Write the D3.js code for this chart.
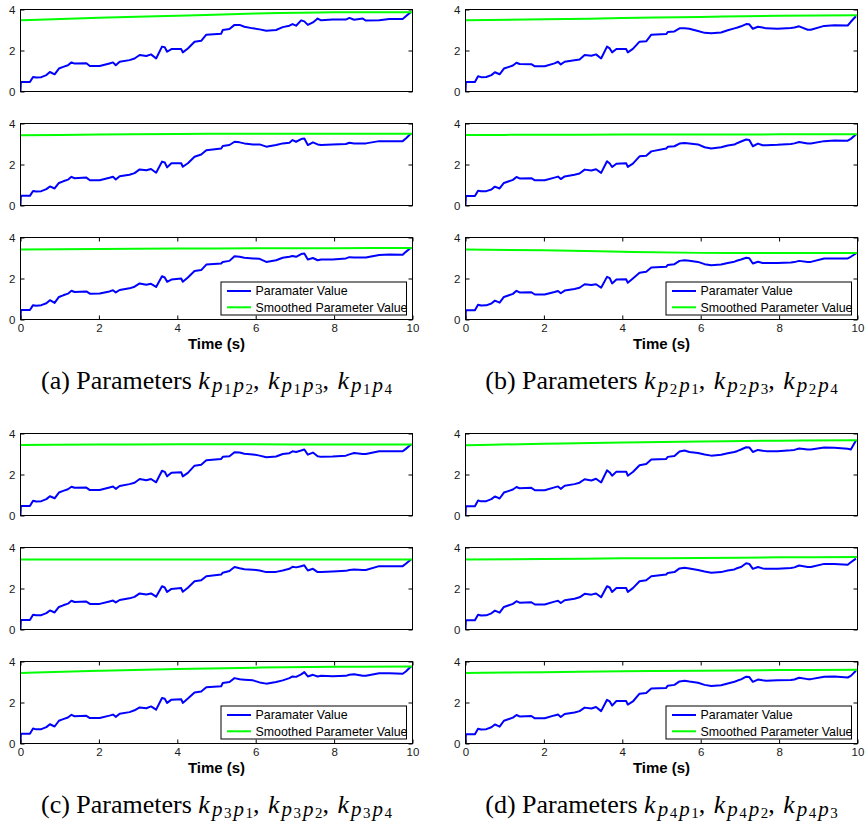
<!DOCTYPE html>
<html>
<head>
<meta charset="utf-8">
<script src="https://cdn.jsdelivr.net/npm/d3@7"></script>
<style>
  body { margin: 0; background: #fff; }
  svg { display: block; }
</style>
</head>
<body>
<svg id="chart" width="865" height="830"></svg>
<script>
// ---- Sample times (s) shared by every parameter trace ----
const time = [0, 0.01, 0.24, 0.32, 0.4, 0.53, 0.66, 0.75, 0.87, 0.98,
  1.09, 1.21, 1.3, 1.38, 1.68, 1.77, 2.02, 2.27, 2.36, 2.43,
  2.53, 2.78, 2.91, 3.04, 3.21, 3.33, 3.46, 3.61, 3.68, 3.74,
  3.85, 4.1, 4.14, 4.27, 4.44, 4.61, 4.74, 5.12, 5.16, 5.33,
  5.46, 5.59, 5.71, 5.93, 6.1, 6.27, 6.52, 6.69, 6.86, 6.94,
  7.03, 7.16, 7.24, 7.33, 7.46, 7.58, 7.67, 7.96, 8.3, 8.39,
  8.51, 8.73, 8.81, 9.15, 9.41, 9.75, 9.83, 9.96];

// ---- Raw parameter values ----
const paramP1P2 = [0, 0.46, 0.46, 0.71, 0.68, 0.70, 0.80, 0.95, 0.84, 1.12, 1.20, 1.28, 1.42, 1.36, 1.38, 1.24, 1.24, 1.37, 1.42, 1.28, 1.45, 1.53, 1.61, 1.78, 1.73, 1.81, 1.61,
  2.19, 2.16, 1.94, 2.07, 2.07, 1.91, 2.10, 2.43, 2.47, 2.77, 2.82, 3.00, 3.05, 3.25, 3.25, 3.16, 3.08, 3.03, 2.96, 3.00, 3.14, 3.21, 3.29, 3.21, 3.47, 3.42, 3.25, 3.37, 3.56, 3.47, 3.51, 3.51, 3.59, 3.50, 3.56, 3.46, 3.47, 3.54, 3.54, 3.67, 3.88];
const paramP1P3 = [0, 0.47, 0.47, 0.71, 0.68, 0.70, 0.80, 0.93, 0.83, 1.10, 1.18, 1.26, 1.40, 1.33, 1.36, 1.23, 1.23, 1.35, 1.40, 1.27, 1.43, 1.50, 1.58, 1.76, 1.72, 1.78, 1.60,
  2.14, 2.10, 1.86, 2.06, 2.06, 1.89, 2.06, 2.38, 2.49, 2.70, 2.78, 2.90, 2.95, 3.11, 3.08, 3.03, 2.98, 2.98, 2.87, 2.95, 3.03, 3.06, 3.19, 3.11, 3.24, 3.27, 2.95, 3.08, 2.98, 2.95, 2.97, 3.00, 3.06, 3.03, 3.03, 3.03, 3.14, 3.14, 3.14, 3.27, 3.51];
const paramP1P4 = [0, 0.46, 0.46, 0.70, 0.67, 0.70, 0.79, 0.94, 0.81, 1.10, 1.18, 1.26, 1.40, 1.34, 1.37, 1.26, 1.27, 1.37, 1.43, 1.32, 1.44, 1.52, 1.60, 1.76, 1.70, 1.74, 1.59,
  2.11, 2.05, 1.84, 1.95, 2.00, 1.84, 2.05, 2.37, 2.41, 2.68, 2.73, 2.81, 2.86, 3.09, 3.06, 3.01, 2.98, 2.96, 2.81, 2.89, 3.01, 3.06, 3.10, 3.06, 3.19, 3.22, 2.93, 3.00, 2.89, 2.93, 2.93, 2.98, 3.04, 3.02, 3.03, 3.02, 3.15, 3.17, 3.16, 3.30, 3.50];
const paramP2P1 = [0, 0.46, 0.46, 0.74, 0.70, 0.71, 0.80, 0.94, 0.84, 1.12, 1.19, 1.27, 1.40, 1.34, 1.33, 1.23, 1.23, 1.37, 1.45, 1.32, 1.45, 1.52, 1.56, 1.78, 1.74, 1.81, 1.61,
  2.19, 2.10, 1.91, 2.07, 2.07, 1.91, 2.08, 2.43, 2.45, 2.77, 2.80, 2.90, 2.93, 3.08, 3.08, 3.06, 2.95, 2.86, 2.84, 2.88, 2.99, 3.08, 3.12, 3.18, 3.29, 3.28, 3.06, 3.16, 3.12, 3.08, 3.06, 3.10, 3.12, 3.18, 3.01, 3.01, 3.20, 3.23, 3.22, 3.40, 3.67];
const paramP2P3 = [0, 0.46, 0.46, 0.72, 0.69, 0.70, 0.78, 0.92, 0.83, 1.10, 1.17, 1.25, 1.39, 1.32, 1.33, 1.23, 1.23, 1.36, 1.41, 1.29, 1.42, 1.50, 1.56, 1.75, 1.71, 1.77, 1.59,
  2.16, 2.05, 1.88, 2.04, 2.06, 1.88, 2.04, 2.40, 2.43, 2.64, 2.78, 2.86, 2.89, 3.02, 3.05, 3.03, 2.98, 2.84, 2.78, 2.84, 2.93, 2.97, 3.05, 3.12, 3.22, 3.20, 2.89, 3.02, 2.94, 2.94, 2.96, 3.00, 3.03, 3.10, 3.02, 3.02, 3.14, 3.17, 3.16, 3.25, 3.46];
const paramP2P4 = [0, 0.45, 0.45, 0.72, 0.68, 0.69, 0.78, 0.92, 0.82, 1.10, 1.17, 1.25, 1.40, 1.32, 1.33, 1.22, 1.22, 1.34, 1.39, 1.28, 1.41, 1.49, 1.55, 1.72, 1.68, 1.72, 1.55,
  2.08, 2.02, 1.76, 1.95, 1.96, 1.79, 2.00, 2.28, 2.33, 2.54, 2.57, 2.66, 2.70, 2.86, 2.89, 2.87, 2.81, 2.70, 2.65, 2.68, 2.76, 2.82, 2.88, 2.93, 3.01, 2.99, 2.73, 2.82, 2.76, 2.76, 2.76, 2.78, 2.80, 2.86, 2.81, 2.81, 2.98, 2.98, 2.98, 3.06, 3.22];
const paramP3P1 = [0, 0.46, 0.46, 0.72, 0.68, 0.70, 0.80, 0.94, 0.84, 1.12, 1.20, 1.28, 1.40, 1.35, 1.36, 1.24, 1.24, 1.37, 1.41, 1.30, 1.44, 1.53, 1.60, 1.78, 1.72, 1.78, 1.62,
  2.18, 2.13, 1.91, 2.09, 2.11, 1.91, 2.08, 2.43, 2.48, 2.69, 2.76, 2.86, 2.89, 3.09, 3.07, 3.01, 2.98, 2.92, 2.84, 2.88, 3.00, 3.04, 3.13, 3.10, 3.17, 3.22, 2.97, 3.07, 2.89, 2.86, 2.88, 2.92, 2.98, 3.05, 3.00, 3.00, 3.13, 3.13, 3.13, 3.25, 3.46];
const paramP3P2 = [0, 0.46, 0.46, 0.72, 0.69, 0.70, 0.80, 0.93, 0.83, 1.10, 1.18, 1.26, 1.40, 1.34, 1.36, 1.25, 1.25, 1.37, 1.41, 1.32, 1.44, 1.52, 1.59, 1.76, 1.71, 1.76, 1.60,
  2.11, 2.05, 1.83, 1.98, 2.02, 1.84, 2.04, 2.35, 2.40, 2.60, 2.68, 2.77, 2.85, 3.05, 2.99, 2.94, 2.92, 2.88, 2.80, 2.81, 2.88, 2.96, 3.06, 3.03, 3.09, 3.13, 2.88, 2.96, 2.80, 2.80, 2.83, 2.86, 2.90, 2.93, 2.90, 2.90, 3.09, 3.09, 3.09, 3.21, 3.42];
const paramP3P4 = [0, 0.47, 0.47, 0.73, 0.69, 0.70, 0.80, 0.94, 0.83, 1.11, 1.19, 1.27, 1.40, 1.33, 1.35, 1.24, 1.24, 1.36, 1.41, 1.30, 1.45, 1.53, 1.62, 1.76, 1.72, 1.81, 1.65,
  2.22, 2.18, 1.98, 2.14, 2.16, 1.98, 2.19, 2.49, 2.54, 2.74, 2.79, 2.95, 3.00, 3.19, 3.13, 3.11, 3.08, 2.98, 2.92, 3.00, 3.08, 3.19, 3.27, 3.25, 3.37, 3.48, 3.27, 3.35, 3.27, 3.30, 3.28, 3.30, 3.35, 3.38, 3.30, 3.30, 3.43, 3.43, 3.40, 3.51, 3.76];
const paramP4P1 = [0, 0.45, 0.45, 0.73, 0.69, 0.70, 0.80, 0.93, 0.83, 1.12, 1.19, 1.27, 1.39, 1.33, 1.35, 1.23, 1.23, 1.37, 1.42, 1.30, 1.45, 1.53, 1.60, 1.77, 1.71, 1.79, 1.61,
  2.20, 2.10, 1.94, 2.14, 2.14, 1.94, 2.12, 2.45, 2.51, 2.73, 2.76, 2.86, 2.90, 3.12, 3.17, 3.10, 3.05, 2.98, 2.92, 2.96, 3.04, 3.10, 3.15, 3.22, 3.33, 3.32, 3.10, 3.20, 3.16, 3.14, 3.14, 3.18, 3.20, 3.27, 3.22, 3.22, 3.32, 3.30, 3.26, 3.22, 3.66];
const paramP4P2 = [0, 0.45, 0.45, 0.72, 0.68, 0.69, 0.79, 0.92, 0.82, 1.10, 1.17, 1.25, 1.38, 1.31, 1.33, 1.22, 1.22, 1.36, 1.40, 1.29, 1.43, 1.50, 1.57, 1.74, 1.70, 1.76, 1.57,
  2.11, 2.05, 1.83, 2.02, 2.02, 1.83, 2.02, 2.35, 2.40, 2.60, 2.68, 2.76, 2.80, 2.98, 3.01, 2.98, 2.90, 2.83, 2.77, 2.80, 2.88, 2.93, 3.00, 3.05, 3.23, 3.20, 2.96, 3.05, 2.98, 2.96, 2.96, 3.00, 3.03, 3.12, 3.05, 3.05, 3.20, 3.20, 3.16, 3.28, 3.46];
const paramP4P3 = [0, 0.45, 0.45, 0.72, 0.68, 0.70, 0.79, 0.93, 0.82, 1.11, 1.18, 1.26, 1.39, 1.32, 1.34, 1.23, 1.23, 1.37, 1.41, 1.29, 1.44, 1.51, 1.58, 1.75, 1.71, 1.78, 1.58,
  2.13, 2.05, 1.85, 2.07, 2.07, 1.90, 2.05, 2.43, 2.46, 2.68, 2.71, 2.82, 2.86, 3.03, 3.06, 3.02, 2.96, 2.86, 2.81, 2.84, 2.93, 3.01, 3.07, 3.13, 3.26, 3.24, 3.01, 3.12, 3.08, 3.06, 3.08, 3.10, 3.12, 3.21, 3.14, 3.14, 3.26, 3.27, 3.22, 3.30, 3.55];

// ---- Smoothed parameter values ----
const smoothTime = [0, 2, 4, 6, 8, 10];
const smoothP1P2 = [3.47, 3.60, 3.70, 3.80, 3.86, 3.87];
const smoothP1P3 = [3.43, 3.46, 3.49, 3.50, 3.50, 3.50];
const smoothP1P4 = [3.42, 3.44, 3.46, 3.47, 3.48, 3.49];
const smoothP2P1 = [3.47, 3.52, 3.58, 3.64, 3.69, 3.72];
const smoothP2P3 = [3.44, 3.45, 3.46, 3.46, 3.47, 3.47];
const smoothP2P4 = [3.41, 3.38, 3.30, 3.25, 3.24, 3.24];
const smoothP3P1 = [3.44, 3.46, 3.47, 3.47, 3.46, 3.46];
const smoothP3P2 = [3.42, 3.42, 3.42, 3.42, 3.41, 3.41];
const smoothP3P4 = [3.44, 3.55, 3.64, 3.70, 3.74, 3.76];
const smoothP4P1 = [3.43, 3.50, 3.56, 3.61, 3.65, 3.67];
const smoothP4P2 = [3.42, 3.44, 3.47, 3.49, 3.52, 3.54];
const smoothP4P3 = [3.44, 3.48, 3.52, 3.55, 3.58, 3.60];

// ---- Axis ticks, labels, captions ----
const yTicks = [0, 2, 4];
const xTicks = [0, 2, 4, 6, 8, 10];
const xLabel = 'Time (s)';
const legendLabels = ['Paramater Value', 'Smoothed Parameter Value'];
const captionLetters = ['a', 'b', 'c', 'd'];
const captionPairs = [
  [[1, 2], [1, 3], [1, 4]],
  [[2, 1], [2, 3], [2, 4]],
  [[3, 1], [3, 2], [3, 4]],
  [[4, 1], [4, 2], [4, 3]]
];
const panelSeries = [
  [[paramP1P2, smoothP1P2], [paramP1P3, smoothP1P3], [paramP1P4, smoothP1P4]],
  [[paramP2P1, smoothP2P1], [paramP2P3, smoothP2P3], [paramP2P4, smoothP2P4]],
  [[paramP3P1, smoothP3P1], [paramP3P2, smoothP3P2], [paramP3P4, smoothP3P4]],
  [[paramP4P1, smoothP4P1], [paramP4P2, smoothP4P2], [paramP4P3, smoothP4P3]]
];

// ---- Layout ----
const W = 392, H = 82, ROW = 114;
const origins = [[20.5, 9.5], [465.5, 9.5], [20.5, 433.5], [465.5, 433.5]];
const RAW_COLOR = '#0000ff', SMOOTH_COLOR = '#00ff00';
const SANS = '"Liberation Sans", Arial, Helvetica, sans-serif';
const SERIF = '"Liberation Serif", "Times New Roman", Times, serif';

const svg = d3.select('#chart');
const x = d3.scaleLinear().domain([0, 10]).range([0, W]);
const y = d3.scaleLinear().domain([0, 4]).range([H, 0]);

const rawLine = d3.line().x((d, i) => x(time[i])).y(d => y(d));
const smoothLine = d3.line().curve(d3.curveMonotoneX).x((d, i) => x(smoothTime[i])).y(d => y(d));

svg.append('defs').append('clipPath').attr('id', 'plotClip')
  .append('rect').attr('x', 0).attr('y', -1).attr('width', W).attr('height', H + 2);

function styleAxis(g, showLabels) {
  g.select('.domain').remove();
  g.selectAll('.tick line').attr('stroke', '#000').attr('stroke-width', 1);
  g.selectAll('.tick text')
    .attr('fill', '#1a1a1a')
    .style('font-family', SANS)
    .style('font-size', '11.5px');
  if (!showLabels) g.selectAll('.tick text').remove();
}

origins.forEach(([ox, oy], p) => {
  const panel = svg.append('g').attr('transform', `translate(${ox},${oy})`);

  panelSeries[p].forEach(([raw, smooth], r) => {
    const g = panel.append('g').attr('transform', `translate(0,${r * ROW})`);
    const last = r === 2;

    const plot = g.append('g').attr('clip-path', 'url(#plotClip)');
    plot.append('path').datum(raw)
      .attr('d', rawLine).attr('fill', 'none')
      .attr('stroke', RAW_COLOR).attr('stroke-width', 2).attr('stroke-linejoin', 'round');
    plot.append('path').datum(smooth)
      .attr('d', smoothLine).attr('fill', 'none')
      .attr('stroke', SMOOTH_COLOR).attr('stroke-width', 2);

    // y ticks inside on both sides, labels on the left
    g.append('g').call(d3.axisLeft(y).tickValues(yTicks).tickSize(-4).tickPadding(5).tickFormat(d3.format('d')))
      .call(a => styleAxis(a, true));
    g.append('g').attr('transform', `translate(${W},0)`)
      .call(d3.axisRight(y).tickValues(yTicks).tickSize(-4))
      .call(a => styleAxis(a, false));

    if (last) {
      g.append('g').attr('transform', `translate(0,${H})`)
        .call(d3.axisBottom(x).tickValues(xTicks).tickSize(-4).tickPadding(4.5).tickFormat(d3.format('d')))
        .call(a => styleAxis(a, true));
      g.append('g')
        .call(d3.axisTop(x).tickValues(xTicks).tickSize(-4))
        .call(a => styleAxis(a, false));
    }

    g.append('rect').attr('width', W).attr('height', H)
      .attr('fill', 'none').attr('stroke', '#000').attr('stroke-width', 1);

    if (last) {
      // legend
      const lg = g.append('g').attr('transform', `translate(${W - 191.5},${H - 37.5})`);
      lg.append('rect').attr('width', 185.5).attr('height', 33)
        .attr('fill', '#fff').attr('stroke', '#000').attr('stroke-width', 1);
      const rows = [[RAW_COLOR, 9], [SMOOTH_COLOR, 25.3]];
      rows.forEach(([c, ry], k) => {
        lg.append('line').attr('x1', 6).attr('x2', 30).attr('y1', ry).attr('y2', ry)
          .attr('stroke', c).attr('stroke-width', 2);
        lg.append('text').attr('x', 34.5).attr('y', ry + 4.4)
          .style('font-family', SANS).style('font-size', '12.4px').attr('fill', '#000')
          .text(legendLabels[k]);
      });

      // x axis title
      g.append('text').attr('x', W / 2).attr('y', H + 29)
        .attr('text-anchor', 'middle')
        .style('font-family', SANS).style('font-size', '15px').style('font-weight', 'bold')
        .attr('fill', '#000').text(xLabel);

      // sub-figure caption
      const cap = g.append('text').attr('x', W / 2).attr('y', H + 69)
        .attr('text-anchor', 'middle')
        .style('font-family', SERIF).style('font-size', '26px').style('white-space', 'pre')
        .attr('fill', '#000');
      cap.append('tspan').text(`(${captionLetters[p]}) Parameters `);
      captionPairs[p].forEach(([i, j], n) => {
        cap.append('tspan').attr('dx', n ? 2 : 0).style('font-style', 'italic').text('k');
        cap.append('tspan').attr('dx', 2).attr('dy', 3.5).style('font-size', '21px').style('font-style', 'italic').text('p');
        cap.append('tspan').attr('dx', 1.5).attr('dy', 2).style('font-size', '15px').text(i);
        cap.append('tspan').attr('dx', 2).attr('dy', -2).style('font-size', '21px').style('font-style', 'italic').text('p');
        cap.append('tspan').attr('dx', 1.5).attr('dy', 2).style('font-size', '15px').text(j);
        if (n < 2) cap.append('tspan').attr('dy', -5.5).text(', ');
      });
    }
  });
});
</script>
</body>
</html>
